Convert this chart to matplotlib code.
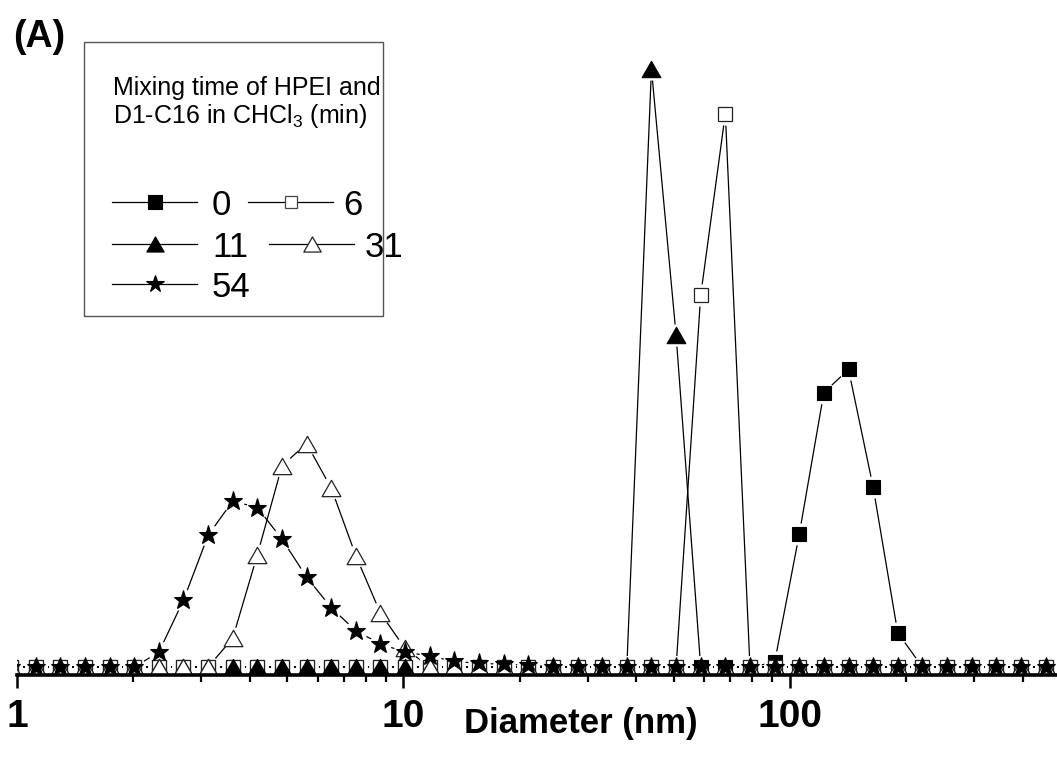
import matplotlib
matplotlib.use('Agg')
import matplotlib.pyplot as plt
import matplotlib.ticker as ticker
from matplotlib.transforms import Affine2D
from matplotlib.path import Path
from matplotlib.patches import Rectangle
from matplotlib.lines import Line2D

plt.rcParams['font.family'] = ['Liberation Sans', 'DejaVu Sans']
plt.rcParams['mathtext.fontset'] = 'custom'
plt.rcParams['mathtext.rm'] = 'Liberation Sans'
plt.rcParams['mathtext.default'] = 'rm'

# DLS size bins (nm) and intensity distributions (%) for each mixing time
diameter = [0.965, 1.117, 1.294, 1.499, 1.736, 2.010, 2.328, 2.696, 3.122, 3.615,
            4.187, 4.849, 5.615, 6.503, 7.531, 8.721, 10.10, 11.70, 13.54, 15.69,
            18.17, 21.04, 24.36, 28.21, 32.67, 37.84, 43.82, 50.75, 58.77, 68.06,
            78.82, 91.28, 105.7, 122.4, 141.8, 164.2, 190.1, 220.2, 255.0, 295.3,
            342.0, 396.1, 458.7, 531.2]

mix_0 = [0, 0, 0, 0, 0, 0, 0, 0, 0, 0,
         0, 0, 0, 0, 0, 0, 0, 0, 0, 0,
         0, 0, 0, 0, 0, 0, 0, 0, 0, 0,
         0, 0.5, 14.3, 29.6, 32.1, 19.4, 3.7, 0, 0, 0,
         0, 0, 0, 0]
mix_6 = [0, 0, 0, 0, 0, 0, 0, 0, 0, 0,
         0, 0, 0, 0, 0, 0, 0, 0, 0, 0,
         0, 0, 0, 0, 0, 0, 0, 0, 40.1, 59.7,
         0, 0, 0, 0, 0, 0, 0, 0, 0, 0,
         0, 0, 0, 0]
mix_11 = [0, 0, 0, 0, 0, 0, 0, 0, 0, 0,
          0, 0, 0, 0, 0, 0, 0, 0, 0, 0,
          0, 0, 0, 0, 0, 0, 64.5, 35.8, 0, 0,
          0, 0, 0, 0, 0, 0, 0, 0, 0, 0,
          0, 0, 0, 0]
mix_31 = [0, 0, 0, 0, 0, 0, 0, 0, 0, 3.1,
          12.1, 21.7, 24.1, 19.3, 12.0, 5.8, 2.0, 0, 0, 0,
          0, 0, 0, 0, 0, 0, 0, 0, 0, 0,
          0, 0, 0, 0, 0, 0, 0, 0, 0, 0,
          0, 0, 0, 0]
mix_54 = [0, 0, 0, 0, 0, 0, 1.6, 7.2, 14.2, 17.9,
          17.2, 13.8, 9.7, 6.4, 3.9, 2.5, 1.6, 1.2, 0.6, 0.4,
          0.3, 0.2, 0, 0, 0, 0, 0, 0, 0, 0,
          0, 0, 0, 0, 0, 0, 0, 0, 0, 0,
          0, 0, 0, 0]

labels = ['0', '6', '11', '31', '54']
values = [mix_0, mix_6, mix_11, mix_31, mix_54]

# wide, slightly flattened triangle
tri = Path([(0, 0.87), (-1, -0.87), (1, -0.87), (0, 0.87)],
           [Path.MOVETO, Path.LINETO, Path.LINETO, Path.CLOSEPOLY])

styles = [
    dict(marker='s', ms=10, mfc='black', mec='black', mew=0.8),
    dict(marker='s', ms=9.5, mfc='white', mec='#222222', mew=0.9),
    dict(marker=tri, ms=13.5, mfc='black', mec='black', mew=0.8),
    dict(marker=tri, ms=13.5, mfc='white', mec='#222222', mew=0.9),
    dict(marker='*', ms=14, mfc='black', mec='black', mew=0.8),
]
legend_styles = [
    dict(marker='s', ms=10, mfc='black', mec='black', mew=0.8),
    dict(marker='s', ms=8, mfc='white', mec='#444444', mew=0.9),
    dict(marker=tri, ms=12.5, mfc='black', mec='black', mew=0.8),
    dict(marker=tri, ms=12.5, mfc='white', mec='#222222', mew=0.9),
    dict(marker='*', ms=13, mfc='black', mec='black', mew=0.8),
]

W, H = 1057, 767
fig = plt.figure(figsize=(W / 100, H / 100), dpi=100)
ax = fig.add_axes([17 / W, (H - 675) / H, 1040 / W, 675 / H])
ax.set_xscale('log')

# connecting lines, then white gaps around every point, then the symbols
for y in values:
    ax.plot(diameter, y, color='black', lw=0.9, zorder=2)
for y in values:
    ax.plot(diameter, y, ls='none', marker='o', ms=16, mfc='white', mec='none', zorder=3)
for i, (y, st) in enumerate(zip(values, styles)):
    ax.plot(diameter, y, ls='none', zorder=4 + i, **st)

ax.set_xlim(1, 491)
ax.set_ylim(-0.86, 71.95)
ax.set_yticks([])
for side in ['left', 'right', 'top']:
    ax.spines[side].set_visible(False)
ax.spines['bottom'].set_linewidth(2.6)
ax.spines['bottom'].set_zorder(10)

ax.set_xticks([1, 10, 100], ['1', '10', '100'], fontsize=28, fontweight='bold')
ax.xaxis.set_minor_locator(ticker.LogLocator(base=10, subs=range(2, 10), numticks=20))
ax.xaxis.set_minor_formatter(ticker.NullFormatter())
ax.tick_params(axis='x', which='major', direction='out', length=9.5, width=1.8, pad=7.5)
ax.tick_params(axis='x', which='minor', direction='out', length=5, width=1.6)

ax.set_xlabel('Diameter (nm)', fontsize=25, fontweight='bold')
ax.xaxis.set_label_coords((581 - 17) / 1040, (675 - 707) / 675)

# pixel coordinates for the panel letter and the legend box
px = Affine2D().scale(1 / W, -1 / H).translate(0, 1) + fig.transFigure

fig.text(13, 47, '(A)', transform=px, fontsize=27, fontweight='bold', va='baseline')

fig.add_artist(Rectangle((84, 42), 299, 274, transform=px, facecolor='white',
                         edgecolor='#555555', lw=1, zorder=20))
fig.text(113, 95, 'Mixing time of HPEI and', transform=px, fontsize=18,
         va='baseline', zorder=21)
fig.text(113, 123, 'D1-C16 in CHCl$_3$ (min)', transform=px, fontsize=18,
         va='baseline', zorder=21)

# (line start, line end, line y, text x, text baseline) per entry
entries = [
    (112, 197, 202, 212, 215),
    (248, 333, 202, 343, 215),
    (112, 197, 244, 212, 257),
    (269, 354, 244, 365, 257),
    (112, 197, 284, 212, 297),
]
for lab, st, (x0, x1, yl, xt, yt) in zip(labels, legend_styles, entries):
    fig.add_artist(Line2D([x0, x1], [yl, yl], transform=px, color='black', lw=0.9, zorder=21))
    fig.add_artist(Line2D([(x0 + x1) / 2], [yl], transform=px, ls='none', zorder=22, **st))
    fig.text(xt, yt, lab, transform=px, fontsize=25, va='baseline', zorder=21)

fig.savefig('out.png', dpi=100)
